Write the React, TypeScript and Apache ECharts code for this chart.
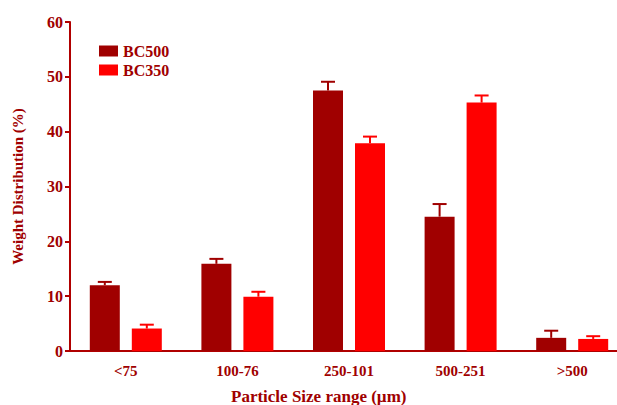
import React, { useEffect, useRef } from "react";
import * as echarts from "echarts";

const categories = ["<75", "100-76", "250-101", "500-251", ">500"];
const seriesNames = ["BC500", "BC350"];
const bc500 = [12.0, 15.9, 47.5, 24.5, 2.4];
const bc500Err = [0.6, 0.9, 1.6, 2.3, 1.3];
const bc350 = [4.1, 9.9, 37.9, 45.3, 2.2];
const bc350Err = [0.7, 0.9, 1.2, 1.3, 0.5];
const yTicks = [0, 10, 20, 30, 40, 50, 60];

const DARK = "#a00000";
const RED = "#ff0000";
const AXIS = "#b00000";
const FONT = "'Liberation Serif', 'Times New Roman', serif";

export default function App() {
  const ref = useRef<HTMLDivElement>(null);
  useEffect(() => {
    if (!ref.current) return;
    const chart = echarts.init(ref.current, undefined, { renderer: "svg" });
    const errSeries = (vals: number[], errs: number[], color: string, offset: number) => ({
      type: "custom",
      z: 3,
      silent: true,
      data: vals.map((v, i) => [i, v, v + errs[i]]),
      renderItem: (params: any, api: any) => {
        const base = api.coord([api.value(0), api.value(1)]);
        const top = api.coord([api.value(0), api.value(2)]);
        const x = base[0] + offset;
        return {
          type: "group",
          children: [
            { type: "line", shape: { x1: x, y1: base[1], x2: x, y2: top[1] }, style: { stroke: color, lineWidth: 2 } },
            { type: "line", shape: { x1: x - 7, y1: top[1], x2: x + 7, y2: top[1] }, style: { stroke: color, lineWidth: 2 } },
          ],
        };
      },
    });
    chart.setOption({
      animation: false,
      grid: { left: 70, right: 0, top: 22, bottom: 54 },
      legend: {
        orient: "vertical",
        left: 99,
        top: 43,
        padding: 0,
        itemWidth: 19,
        itemHeight: 11,
        itemGap: 3,
        itemTextGap: 8,
        icon: "rect",
        data: seriesNames,
        textStyle: { fontFamily: FONT, fontWeight: "bold", fontSize: 16, color: DARK },
      },
      xAxis: {
        type: "category",
        data: categories,
        axisLine: { lineStyle: { color: AXIS, width: 2 } },
        axisTick: { alignWithLabel: true, length: 5, lineStyle: { color: AXIS, width: 2 } },
        axisLabel: { fontFamily: FONT, fontWeight: "bold", fontSize: 15, color: DARK, margin: 12 },
      },
      yAxis: {
        type: "value",
        min: 0,
        max: 60,
        interval: 10,
        name: "Weight Distribution (%)",
        nameLocation: "middle",
        nameGap: 45,
        nameTextStyle: { fontFamily: FONT, fontWeight: "bold", fontSize: 15, color: DARK },
        splitLine: { show: false },
        axisLine: { show: true, lineStyle: { color: AXIS, width: 2 } },
        axisTick: { show: true, length: 5, lineStyle: { color: AXIS, width: 2 } },
        axisLabel: {
          fontFamily: FONT,
          fontWeight: "bold",
          fontSize: 16,
          color: DARK,
          margin: 7,
          formatter: (v: number) => (yTicks.includes(v) ? String(v) : ""),
        },
      },
      graphic: [
        {
          type: "text",
          left: 231,
          top: 388,
          style: {
            text: "Particle Size range (µm)",
            font: `bold 17px ${FONT}`,
            fill: DARK,
          },
        },
      ],
      series: [
        { name: seriesNames[0], type: "bar", data: bc500, barWidth: 30, barGap: "40%", itemStyle: { color: DARK } },
        { name: seriesNames[1], type: "bar", data: bc350, barWidth: 30, barGap: "40%", itemStyle: { color: RED } },
        errSeries(bc500, bc500Err, DARK, -21),
        errSeries(bc350, bc350Err, RED, 21),
      ],
    });
    return () => chart.dispose();
  }, []);
  return (
    <div style={{ position: "absolute", left: 0, top: 0, width: 617, height: 405, overflow: "hidden" }}>
      <div ref={ref} style={{ width: 628, height: 405 }} />
    </div>
  );
}
